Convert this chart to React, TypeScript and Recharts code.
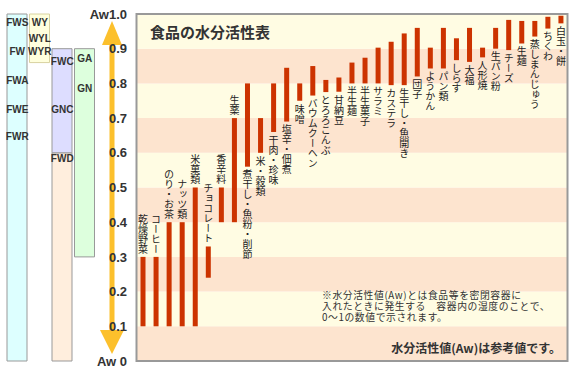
import React from 'react';
import { ComposedChart, BarChart, Bar, XAxis, YAxis, ReferenceArea, ReferenceDot, Label, Cell } from 'recharts';

// ---- Data ----
const foods = [
  '乾燥野菜', 'コーヒー', 'のり・お茶', 'ナッツ類', '米菓類', 'チョコレート', '香辛料', '生薬',
  '煮干し・魚粉・削節', '米・穀類', '干肉・珍味', '塩辛・佃煮', '味噌', 'バウムクーヘン', 'とろろこんぶ', '甘納豆',
  '半生麺', '半生菓子', 'サラミ', 'カステラ', '生干し・魚開き', '団子', 'ようかん', 'パン類',
  'しらす', '大福', '人形焼', '生パン粉', 'チーズ', '生麺', '蒸しまんじゅう', 'ちくわ', '白玉・餅',
];
const awLow = [
  0.1, 0.1, 0.1, 0.1, 0.1, 0.24, 0.4, 0.4,
  0.56, 0.6, 0.66, 0.69, 0.75, 0.765, 0.775, 0.776,
  0.8, 0.8, 0.8, 0.795, 0.795, 0.82, 0.843, 0.843,
  0.867, 0.862, 0.875, 0.9, 0.896, 0.915, 0.935, 0.958, 0.973,
];
const awHigh = [
  0.3, 0.3, 0.4, 0.4, 0.5, 0.33, 0.5, 0.7,
  0.8, 0.7, 0.8, 0.845, 0.8, 0.85, 0.81, 0.817,
  0.86, 0.874, 0.903, 0.92, 0.944, 0.96, 0.903, 0.96,
  0.93, 0.96, 0.903, 0.96, 0.983, 0.98, 0.98, 0.992, 0.995,
];
const LABEL_ABOVE_COUNT = 8;

const yTicks = [0, 0.1, 0.2, 0.3, 0.4, 0.5, 0.6, 0.7, 0.8, 0.9, 1.0];
const yTickLabels = ['Aw 0', '0.1', '0.2', '0.3', '0.4', '0.5', '0.6', '0.7', '0.8', '0.9', 'Aw1.0'];

// legend columns (Aw ranges)
const legendCols = ['FW', 'WY', 'FWC', 'GA'];
const legendBase = [0, 0.86, 0, 0.3];
const legendSegA = [1.0, 0.14, 0.6, 0.6];
const legendSegB = [0, 0, 0.3, 0];
const legendColorA = ['#DDFFFF', '#FFFFDD', '#FFEEDD', '#DDFFDD'];
const legendColorB = ['#DDDDFF', '#DDDDFF', '#DDDDFF', '#DDDDFF'];
const legendLabelText = ['FWS', 'FW', 'FWA', 'FWE', 'FWR', 'WY', 'WYL', 'WYR', 'FWC', 'GNC', 'FWD', 'GA', 'GN'];
const legendLabelCol = ['FW', 'FW', 'FW', 'FW', 'FW', 'WY', 'WY', 'WY', 'FWC', 'FWC', 'FWC', 'GA', 'GA'];
const legendLabelAw = [0.975, 0.891, 0.808, 0.724, 0.646, 0.975, 0.93, 0.891, 0.862, 0.724, 0.584, 0.872, 0.786];

const titleText = '食品の水分活性表';
const noteLines = [
  '※水分活性値(Aw)とは食品等を密閉容器に',
  '入れたときに発生する　容器内の湿度のことで、',
  '0〜1の数値で示されます。',
];
const noteBold = '水分活性値(Aw)は参考値です。';

// ---- Build ----
const data = foods.map((name, i) => ({ name, range: [awLow[i], awHigh[i]] }));
const legendData = legendCols.map((col, i) => ({ col, base: legendBase[i], segA: legendSegA[i], segB: legendSegB[i] }));

const BAR_COLOR = '#CC3300';
const CREAM = '#FFFCE3';
const SALMON = '#FDE4CF';
const CJK = '"Noto Sans CJK JP", sans-serif';
const LATIN = '"Liberation Sans", Arial, sans-serif';

const BarShape = (props: any) => {
  const { x, y, width, height, index } = props;
  if (x == null || y == null) return null;
  const name = props.payload?.name ?? props.name;
  const top = Math.min(y, y + height);
  const bottom = Math.max(y, y + height);
  const cx = x + width / 2;
  const above = index < LABEL_ABOVE_COUNT;
  return (
    <g>
      <rect x={x} y={top} width={width} height={bottom - top} fill={BAR_COLOR} />
      <text
        x={cx}
        y={above ? top - 3 : bottom + 3}
        textAnchor={above ? 'end' : 'start'}
        fontSize={10}
        fill="#222"
        fontFamily={CJK}
        style={{ writingMode: 'vertical-rl' as any }}
      >
        {name}
      </text>
    </g>
  );
};

export default function App() {
  const bands = [];
  for (let i = 0; i < 10; i++) {
    bands.push(
      <ReferenceArea key={'b' + i} y1={yTicks[i]} y2={yTicks[i + 1]} fill={i % 2 === 0 ? SALMON : CREAM} fillOpacity={1} stroke="none" />
    );
  }
  return (
    <div style={{ position: 'absolute', left: 0, top: 0, width: 577, height: 375, background: '#fff', fontFamily: LATIN }}>
      {/* arrow */}
      <svg width={577} height={375} style={{ position: 'absolute', left: 0, top: 0 }}>
        <line x1={112} x2={112} y1={40} y2={336} stroke="#FCC02C" strokeWidth={5} />
        <polygon points="112,21 102,45 122,45" fill="#FCC02C" />
        <polygon points="112,354 100,330 124,330" fill="#FCC02C" />
      </svg>
      {/* legend columns */}
      <div style={{ position: 'absolute', left: 0, top: 0 }}>
        <BarChart width={100} height={375} data={legendData} margin={{ top: 14, right: 4, bottom: 14, left: 6 }}>
          <XAxis dataKey="col" hide />
          <YAxis type="number" domain={[0, 1]} hide />
          <Bar dataKey="base" stackId="s" fill="transparent" barSize={20} isAnimationActive={false} />
          <Bar dataKey="segA" stackId="s" barSize={20} stroke="#999" strokeWidth={1} isAnimationActive={false}>
            {legendData.map((d, i) => (
              <Cell key={i} fill={legendColorA[i]} stroke={i === 1 ? '#D8D2A0' : '#999'} />
            ))}
          </Bar>
          <Bar dataKey="segB" stackId="s" barSize={20} stroke="#999" strokeWidth={1} isAnimationActive={false}>
            {legendData.map((d, i) => (
              <Cell key={i} fill={legendColorB[i]} />
            ))}
          </Bar>
          {legendLabelText.map((t, i) => (
            <ReferenceDot key={'l' + i} x={legendLabelCol[i]} y={legendLabelAw[i]} r={0} fill="none" stroke="none" ifOverflow="visible">
              <Label value={t} position="center" fill="#333" fontSize={10} fontWeight="bold" />
            </ReferenceDot>
          ))}
        </BarChart>
      </div>
      {/* main chart */}
      <div style={{ position: 'absolute', left: 0, top: 0 }}>
        <ComposedChart width={577} height={375} data={data} margin={{ top: 14, right: 9, bottom: 14, left: 94 }}>
          {bands}
          <ReferenceArea y1={0} y2={1} fill="none" stroke="#999" strokeWidth={2} />
          <XAxis dataKey="name" hide padding={{ left: 2.5, right: 0.5 }} />
          <YAxis
            type="number"
            domain={[0, 1]}
            ticks={yTicks}
            width={40}
            tickSize={0}
            tickMargin={7}
            axisLine={false}
            tickLine={false}
            interval={0}
            tickFormatter={(v: number) => yTickLabels[yTicks.indexOf(v)] ?? String(v)}
            tick={{ fill: '#333', fontSize: 13, fontWeight: 'bold', fontFamily: LATIN }}
          />
          <Bar dataKey="range" barSize={5} isAnimationActive={false} shape={BarShape} />
        </ComposedChart>
      </div>
      {/* texts */}
      <svg width={577} height={375} style={{ position: 'absolute', left: 0, top: 0, pointerEvents: 'none' }}>
        <text x={150} y={38} fontSize={15} fontWeight="bold" fill="#333" fontFamily={CJK}>{titleText}</text>
        <text x={322} y={299} fontSize={9.8} letterSpacing={0.6} fill="#333" fontFamily={CJK}>
          {noteLines.map((l, i) => (
            <tspan key={i} x={322} dy={i === 0 ? 0 : 10.8}>{l}</tspan>
          ))}
        </text>
        <text x={561} y={352.5} textAnchor="end" fontSize={12} fontWeight="bold" fill="#333" fontFamily={CJK}>{noteBold}</text>
      </svg>
    </div>
  );
}
